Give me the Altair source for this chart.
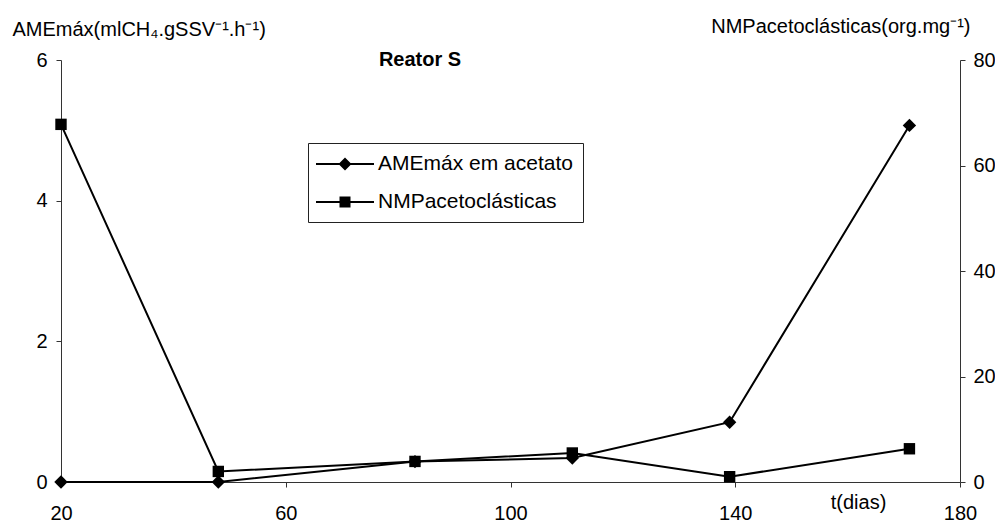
import altair as alt
import pandas as pd

# ---- data ----
days = [20, 48, 83, 111, 139, 171]
ame = [0.0, 0.0, 0.29, 0.34, 0.85, 5.07]
nmp = [67.8, 2.0, 3.9, 5.5, 1.0, 6.3]
series = ["AMEmáx em acetato", "NMPacetoclásticas"]
chart_title = ["Reator S"]

x_ticks = [20, 60, 100, 140, 180]
left_ticks = [0, 2, 4, 6]
right_ticks = [0, 20, 40, 60, 80]

FONT = "Liberation Sans"
INK = "black"
AXIS_INK = "#333333"

df = pd.DataFrame({"dia": days, "ame": ame, "nmp": nmp})

x_enc = alt.X(
    "dia:Q",
    scale=alt.Scale(domain=[20, 180], nice=False, zero=False),
    axis=alt.Axis(
        values=x_ticks, title="t(dias)", titleX=797, titleY=20,
        titleAlign="center", titleBaseline="middle", titleAngle=0,
        labelPadding=16, tickSize=5, labelFlush=False,
    ),
)

left_axis = alt.Axis(
    orient="left", values=left_ticks, title="AMEmáx(mlCH₄.gSSV⁻¹.h⁻¹)",
    titleAngle=0, titleAlign="left", titleBaseline="middle",
    titleX=-49, titleY=-31, labelPadding=9, tickSize=5, labelFlush=False,
)
right_axis = alt.Axis(
    orient="right", values=right_ticks, title="NMPacetoclásticas(org.mg⁻¹)",
    titleAngle=0, titleAlign="right", titleBaseline="middle",
    titleX=10, titleY=-34, labelPadding=8, tickSize=5, labelFlush=False,
)

base = alt.Chart(df)

ame_y = alt.Y("ame:Q", scale=alt.Scale(domain=[0, 6], nice=False), axis=left_axis)
nmp_y = alt.Y("nmp:Q", scale=alt.Scale(domain=[0, 80], nice=False), axis=right_axis)

left = alt.layer(
    base.mark_line(color=INK, strokeWidth=2).encode(x=x_enc, y=ame_y),
    base.mark_point(shape="diamond", filled=True, size=180, color=INK, opacity=1).encode(x=x_enc, y=ame_y),
)
right = alt.layer(
    base.mark_line(color=INK, strokeWidth=2).encode(x=x_enc, y=nmp_y),
    base.mark_point(shape="square", filled=True, size=130, color=INK, opacity=1).encode(x=x_enc, y=nmp_y),
)

# legend symbols: filled bar (the line) + marker as custom paths
path_diamond = "M-2.9,-0.1H2.9V0.1H-2.9ZM0,-0.65L0.65,0L0,0.65L-0.65,0Z"
path_square = "M-2.9,-0.1H2.9V0.1H-2.9ZM-0.55,-0.55H0.55V0.55H-0.55Z"

leg_df = pd.DataFrame({"serie": series})
legend_layer = alt.Chart(leg_df).mark_point(
    filled=True, color=INK, opacity=0
).encode(
    x=alt.value(0),
    y=alt.value(0),
    shape=alt.Shape(
        "serie:N",
        scale=alt.Scale(domain=series, range=[path_diamond, path_square]),
        legend=alt.Legend(
            title=None, orient="none", legendX=247, legendY=83,
            padding=10, strokeColor="#222222", fillColor="white",
            symbolSize=400, symbolOffset=16, labelOffset=22, rowPadding=17,
            labelFontSize=21, labelFont=FONT, labelColor=INK, labelLimit=400,
            symbolFillColor=INK, symbolOpacity=1,
        ),
    ),
)

title_layer = alt.Chart(pd.DataFrame({"t": chart_title})).mark_text(
    font=FONT, fontSize=20, fontWeight="bold", color=INK, align="center", baseline="middle"
).encode(text="t:N", x=alt.value(359), y=alt.value(0))

chart = (
    alt.layer(left, right, legend_layer, title_layer)
    .resolve_scale(y="independent", shape="independent")
    .properties(
        width=899, height=422,
        autosize=alt.AutoSizeParams(type="none"),
        padding={"left": 53, "top": 52, "right": 35, "bottom": 41},
        background="white",
    )
    .configure_view(stroke=None)
    .configure_axis(
        grid=False, labelFont=FONT, titleFont=FONT, labelFontSize=20, titleFontSize=20,
        labelColor=INK, titleColor=INK, titleFontWeight="normal",
        domainColor=AXIS_INK, tickColor=AXIS_INK, domainWidth=1, tickWidth=1,
    )
)

chart.save("out.html", embed_options={"renderer": "svg", "actions": False})
